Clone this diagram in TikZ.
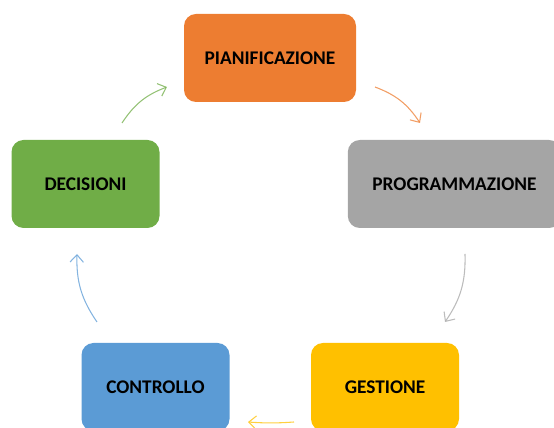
\documentclass[tikz,border=0pt]{standalone}
\usepackage{fontspec}
\setmainfont{Carlito}
\usetikzlibrary{arrows.meta}
\definecolor{cOrange}{HTML}{ED7D31}
\definecolor{cGray}{HTML}{A5A5A5}
\definecolor{cYellow}{HTML}{FFC000}
\definecolor{cBlue}{HTML}{5B9BD5}
\definecolor{cGreen}{HTML}{70AD47}
\tikzset{
  stagebox/.style={rounded corners=9pt, minimum height=66pt, inner sep=0pt,
    font=\fontsize{14.5}{16}\selectfont\bfseries, text=black},
  cyclearrow/.style={line width=0.8pt, opacity=0.75,
    -{Straight Barb[length=5.5pt,width=10pt,line width=0.8pt]}}
}
\begin{document}
\begin{tikzpicture}[x=0.75pt,y=0.75pt]
\useasboundingbox (0,0) rectangle (554,428);
\clip (0,0) rectangle (554,428);
\node[stagebox, fill=cOrange, minimum width=129pt] (pian) at (270,370) {PIANIFICAZIONE};
\node[stagebox, fill=cGray, minimum width=160pt] (prog) at (454.5,244) {PROGRAMMAZIONE};
\node[stagebox, fill=cYellow, minimum width=111pt] (gest) at (385,41) {GESTIONE};
\node[stagebox, fill=cBlue, minimum width=111pt] (cont) at (155.5,41) {CONTROLLO};
\node[stagebox, fill=cGreen, minimum width=111pt] (dec) at (85.5,244) {DECISIONI};
% arrow end points
\coordinate (g1) at (122,305); \coordinate (g2) at (167,341);
\coordinate (o1) at (375,341); \coordinate (o2) at (420,305);
\coordinate (r1) at (465,174); \coordinate (r2) at (445,106);
\coordinate (y1) at (294,6);   \coordinate (y2) at (248,6);
\coordinate (b1) at (97,106);  \coordinate (b2) at (77,174);
\draw[cyclearrow, cGreen] (g1) to[bend left=18] (g2);
\draw[cyclearrow, cOrange] (o1) to[bend left=18] (o2);
\draw[cyclearrow, cGray] (r1) to[bend left=18] (r2);
\draw[cyclearrow, cYellow] (y1) to[bend left=4] (y2);
\draw[cyclearrow, cBlue] (b1) to[bend left=18] (b2);
\end{tikzpicture}
\end{document}
